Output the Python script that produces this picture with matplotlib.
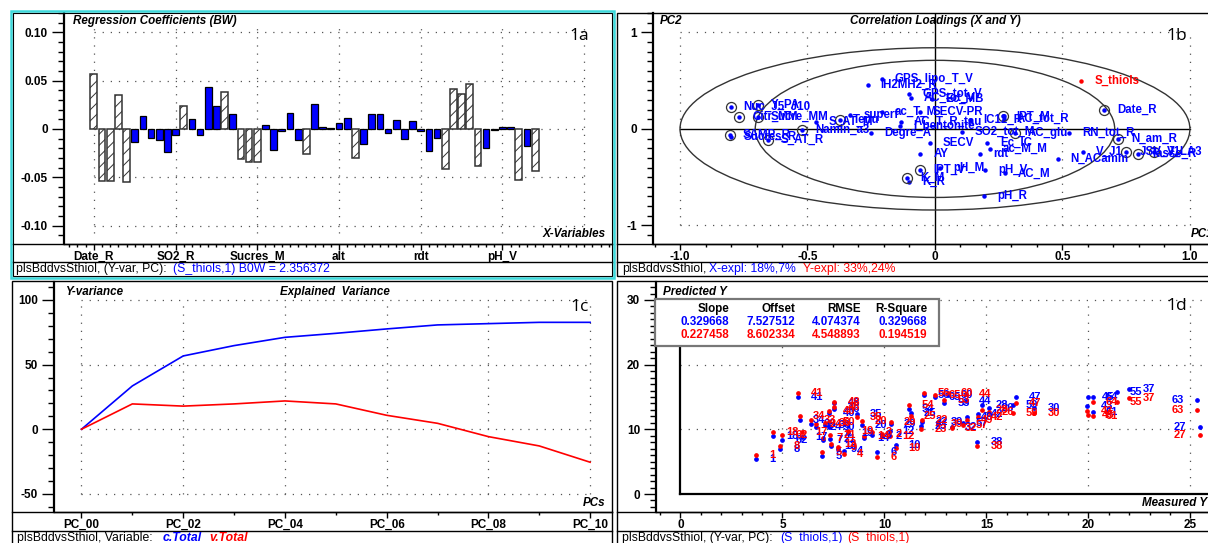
import matplotlib
matplotlib.use("Agg")
import matplotlib.pyplot as plt
from matplotlib.patches import Rectangle, Ellipse
from matplotlib.lines import Line2D
from matplotlib.ticker import MultipleLocator
import numpy as np

# ---------------- data ----------------
# 1a: PLS regression coefficients (weighted) per X-variable
coef_values = [0.057, -0.054, -0.054, 0.035, -0.055, -0.013, 0.013, -0.009, -0.011, -0.024,
               -0.006, 0.024, 0.010, -0.006, 0.043, 0.024, 0.038, 0.016, -0.031, -0.034,
               -0.034, 0.004, -0.022, -0.002, 0.017, -0.011, -0.026, 0.026, 0.002, 0.001,
               0.006, 0.011, -0.030, -0.016, 0.015, 0.016, -0.004, 0.009, -0.010, 0.008,
               -0.002, -0.023, -0.009, -0.041, 0.041, 0.036, 0.047, -0.038, -0.020, -0.001,
               0.002, 0.002, -0.053, -0.018, -0.043]
coef_marked = [0, 1, 2, 3, 4, 11, 16, 18, 19, 20, 26, 32, 43, 44, 45, 46, 47, 52, 54]
coef_tick_pos = [0, 10, 20, 30, 40, 50]
coef_tick_labels = ["Date_R", "SO2_R", "Sucres_M", "alt", "rdt", "pH_V"]

# 1b: correlation loadings PC1 / PC2
load_labels = ["Nuc_J5_J10", "Y_PA", "Citr_MM", "Sucre_MM", "SAMP_R", "Sucres_R", "S_AT_R",
               "Namin_a3", "S_AT_M", "Tenu", "superf", "IH2MH2_R", "Degre_A", "GPS_lipo_T_V",
               "GPS_tot_V", "AC_tot_V", "Ec_MB", "ac_T_M", "AC_T_R_tau", "SECV-PR",
               "l_bentonite", "SO2_tot_M", "IC12_R", "SECV", "AY", "IPT_V", "pH_M", "K_M",
               "K_R", "Ec_IC", "ac_M_M", "rdt", "pH_V", "AC_M", "pH_R", "IPT_M", "AC_tot_R",
               "AC_glu", "RN_tot_R", "N_ACamm", "Date_R", "N_am_R", "V_J1", "JSV_J1",
               "Tasse_R", "V_LA3"]
load_pc1 = [-0.802, -0.696, -0.767, -0.696, -0.805, -0.800, -0.655, -0.521, -0.467, -0.374,
            -0.333, -0.264, -0.251, -0.208, -0.100, -0.095, -0.012, -0.208, -0.133, -0.060,
            -0.137, 0.105, 0.137, -0.020, -0.057, -0.057, 0.020, -0.109, -0.100, 0.204,
            0.216, 0.176, 0.196, 0.275, 0.193, 0.268, 0.270, 0.313, 0.525, 0.481,
            0.664, 0.717, 0.580, 0.751, 0.796, 0.859]
load_pc2 = [0.228, 0.248, 0.124, 0.124, -0.059, -0.085, -0.110, -0.007, 0.076, 0.090,
            0.145, 0.455, -0.045, 0.520, 0.360, 0.320, 0.310, 0.180, 0.076, 0.170,
            0.030, -0.030, 0.093, -0.145, -0.265, -0.421, -0.410, -0.507, -0.550, -0.142,
            -0.210, -0.260, -0.425, -0.460, -0.697, 0.130, 0.100, -0.041, -0.040, -0.314,
            0.193, -0.103, -0.240, -0.241, -0.255, -0.241]
load_significant = ["Nuc_J5_J10", "Y_PA", "Citr_MM", "Sucre_MM", "SAMP_R", "S_AT_R", "Namin_a3",
                    "Tenu", "IPT_V", "K_M", "IPT_M", "AC_glu", "Date_R", "N_am_R", "JSV_J1",
                    "Tasse_R", "V_LA3"]
y_label = "S_thiols"
y_pc1, y_pc2 = 0.574, 0.500

# 1c: explained Y-variance by number of PCs
pc_index = list(range(11))
pc_labels = ["PC_00", "PC_02", "PC_04", "PC_06", "PC_08", "PC_10"]
calib_total = [0, 33.5, 56.7, 64.7, 71.1, 74.2, 77.6, 80.7, 81.7, 82.7, 82.7]
valid_total = [0, 19.6, 17.9, 19.6, 21.9, 19.6, 10.8, 4.6, -5.7, -12.9, -25.5]

# 1d: predicted vs measured S_thiols
samp_ids = [1, 18, 62, 8, 41, 34, 17, 33, 24, 36, 50, 7, 21, 13, 5, 9, 4, 48, 46, 40,
            35, 19, 20, 2, 3, 14, 6, 29, 12, 10, 54, 25, 22, 23, 56, 65, 53, 60, 44, 39,
            32, 57, 49, 42, 28, 26, 38, 47, 59, 30, 43, 45, 64, 61, 55, 37, 63, 27]
samp_measured = [3.7, 4.55, 5.0, 4.9, 5.77, 5.85, 5.95, 6.4, 6.65, 7.1, 7.3, 7.0, 7.35, 7.4,
                 6.95, 7.7, 8.0, 7.55, 7.55, 7.3, 8.65, 8.2, 8.9, 9.9, 9.4, 9.0, 9.65, 10.3,
                 10.25, 10.55, 11.2, 11.3, 11.85, 11.8, 11.95, 12.5, 12.93, 13.1, 14.0, 12.6,
                 13.3, 13.83, 14.07, 14.6, 14.8, 15.1, 14.55, 16.44, 16.3, 17.35, 19.95, 20.0,
                 20.2, 20.2, 21.4, 22.0, 25.3, 25.45]
samp_pred_cal = [5.4, 8.9, 8.3, 6.9, 15.0, 11.4, 8.8, 10.9, 10.3, 10.6, 10.3, 8.3, 8.5, 7.4,
                 5.9, 6.9, 6.6, 14.0, 13.1, 12.6, 12.4, 9.4, 10.7, 8.9, 9.2, 8.6, 6.5, 10.8,
                 9.8, 7.6, 13.2, 12.5, 11.2, 10.5, 15.3, 15.0, 14.1, 15.3, 14.4, 11.1,
                 10.4, 11.0, 11.85, 12.3, 13.75, 13.3, 8.1, 15.0, 13.75, 13.25, 13.6, 14.95,
                 15.0, 12.7, 15.7, 16.2, 14.5, 10.3]
samp_pred_val = [6.1, 9.6, 9.1, 7.4, 15.6, 12.1, 9.6, 11.4, 10.9, 11.0, 11.2, 8.7, 9.1, 7.8,
                 6.5, 7.3, 6.2, 14.3, 13.5, 12.8, 11.9, 9.8, 11.3, 9.3, 9.6, 9.0, 5.8, 11.2,
                 8.9, 7.1, 13.75, 12.1, 11.4, 10.0, 15.65, 15.3, 14.6, 15.55, 15.45, 10.9,
                 10.15, 10.7, 11.4, 11.85, 13.0, 12.7, 7.4, 14.0, 12.5, 12.6, 12.8, 12.2,
                 14.3, 12.05, 14.2, 14.9, 13.0, 9.2]
stat_names = ["Slope", "Offset", "RMSE", "R-Square"]
stat_cal = ["0.329668", "7.527512", "4.074374", "0.329668"]
stat_val = ["0.227458", "8.602334", "4.548893", "0.194519"]

# ---------------- figure helpers ----------------
W, H, DPI = 1208, 543, 100
BLUE, RED, CYAN = "#0000ff", "#ff0000", "#3cd8da"
plt.rcParams["font.family"] = ["Liberation Sans", "DejaVu Sans"]
plt.rcParams["hatch.linewidth"] = 0.7
fig = plt.figure(figsize=(W / DPI, H / DPI), dpi=DPI)
fig.patch.set_facecolor("white")

TICK_FS = 8.5
TITLE_FS = 8.4
STATUS_FS = 8.8
TAG_FS = 12.5
LOAD_FS = 8.3
SAMP_FS = 8.0


def px_axes(x0, y0, x1, y1):
    return fig.add_axes([x0 / W, 1 - y1 / H, (x1 - x0) / W, (y1 - y0) / H])


def fline(x0, y0, x1, y1, color="black", lw=1.0):
    fig.add_artist(Line2D([x0 / W, x1 / W], [1 - y0 / H, 1 - y1 / H],
                          transform=fig.transFigure, color=color, lw=lw))


def frect(x0, y0, x1, y1, color="black", lw=1.0, fill=False, zorder=1):
    fig.add_artist(Rectangle((x0 / W, 1 - y1 / H), (x1 - x0) / W, (y1 - y0) / H,
                             transform=fig.transFigure, fill=fill, facecolor="white",
                             edgecolor=color, lw=lw, zorder=zorder))


def ftext(x, y, s, **kw):
    kw.setdefault("va", "center")
    return fig.text(x / W, 1 - y / H, s, **kw)


def dotted(ax, xs, ys):
    ax.plot(xs, ys, color="#555555", lw=0.9, dashes=(1.0, 5.5), zorder=0.5)


def style_axes(ax, xlim, ylim, yticks, yminor, xticks, xlabels, xminor, ylabels=None):
    ax.set_xlim(*xlim)
    ax.set_ylim(*ylim)
    for side in ("top", "right"):
        ax.spines[side].set_visible(False)
    ax.spines["left"].set_linewidth(1.6)
    ax.spines["bottom"].set_linewidth(1.0)
    ax.set_yticks(yticks, labels=ylabels if ylabels is not None else [str(t) for t in yticks])
    ax.set_xticks(xticks, labels=xlabels)
    ax.yaxis.set_minor_locator(MultipleLocator(yminor))
    ax.xaxis.set_minor_locator(MultipleLocator(xminor))
    ax.tick_params(axis="y", which="major", length=8.5, width=1.0, pad=3, labelsize=TICK_FS)
    ax.tick_params(axis="y", which="minor", length=4.3, width=1.0)
    ax.tick_params(axis="x", which="major", length=4.3, width=1.0, pad=0.5, labelsize=TICK_FS)
    ax.tick_params(axis="x", which="minor", length=2.5, width=1.0)
    for lbl in ax.get_xticklabels() + ax.get_yticklabels():
        lbl.set_fontweight("bold")


def status(y, parts):
    for x, s, color, style, weight in parts:
        ftext(x, y, s, color=color, fontsize=STATUS_FS, fontstyle=style, fontweight=weight)


# ---------------- panel frames ----------------
frect(11, 11, 613.5, 277.5, color=CYAN, lw=1.8)
frect(12.5, 12.5, 612, 276, lw=0.8)
fline(12.5, 244, 612, 244)
fline(12.5, 262, 612, 262)

frect(617, 12.5, 1215, 276)
fline(617, 244, 1208, 244)
fline(617, 262, 1208, 262)

frect(12, 281, 612, 550)
fline(12, 512, 612, 512)
fline(12, 531, 612, 531)

frect(617, 281, 1215, 550)
fline(617, 512, 1208, 512)
fline(617, 531, 1208, 531)

# ---------------- 1a: regression coefficients ----------------
ax1 = px_axes(64, 13, 612, 244)
style_axes(ax1, (-3.65, 63.4), (-0.119, 0.12), [-0.10, -0.05, 0, 0.05, 0.10], 0.01,
           coef_tick_pos, coef_tick_labels, 1,
           ylabels=["-0.10", "-0.05", "0", "0.05", "0.10"])
for yv in [-0.10, -0.05, 0, 0.05, 0.10]:
    dotted(ax1, [0, 60], [yv, yv])
for xv in range(0, 61, 10):
    dotted(ax1, [xv, xv], [-0.108, 0.108])
idx = np.arange(len(coef_values))
for i, v in zip(idx, coef_values):
    if i in coef_marked:
        ax1.bar(i, v, width=0.82, facecolor="white", edgecolor="#333333", lw=1.1,
                hatch="///", zorder=2)
    else:
        ax1.bar(i, v, width=0.82, facecolor=BLUE, edgecolor="black", lw=0.9, zorder=2)

ftext(73, 21, "Regression Coefficients (BW)", fontsize=TITLE_FS, fontweight="bold",
      fontstyle="italic")
ftext(569, 36, "1a", fontsize=TAG_FS, family="Open Sans")
ftext(606, 234, "X-Variables", ha="right", fontsize=TITLE_FS, fontweight="bold",
      fontstyle="italic")
status(269, [(16, "plsBddvsSthiol, (Y-var, PC):", "black", "normal", "normal"),
             (173, "(S_thiols,1) B0W = 2.356372", BLUE, "normal", "normal")])

# ---------------- 1b: correlation loadings ----------------
ax2 = px_axes(653, 13, 1208, 244)
style_axes(ax2, (-1.106, 1.071), (-1.192, 1.20), [-1, 0, 1], 0.1,
           [-1, -0.5, 0, 0.5, 1], ["-1.0", "-0.5", "0", "0.5", "1.0"], 0.1)
for xv in (-1, -0.5, 0.5, 1):
    dotted(ax2, [xv, xv], [-1, 1])
for yv in (-1, 1):
    dotted(ax2, [-1, 1], [yv, yv])
ax2.plot([-1, 1], [0, 0], color="black", lw=1.0, zorder=1)
ax2.axvline(0, color="black", lw=1.0, zorder=1)
ax2.add_patch(Ellipse((0, 0), 2.0, 1.68, fill=False, edgecolor="#333333", lw=1.0, zorder=1))
ax2.add_patch(Ellipse((0, 0), 1.41, 1.42, fill=False, edgecolor="#333333", lw=1.0, zorder=1))

ax2.plot(load_pc1, load_pc2, "o", ms=2.2, color=BLUE, ls="none", zorder=3)
sig_x = [x for x, l in zip(load_pc1, load_labels) if l in load_significant]
sig_y = [y for y, l in zip(load_pc2, load_labels) if l in load_significant]
ax2.plot(sig_x, sig_y, "o", ms=7.2, mfc="none", mec="#333333", mew=0.9, ls="none", zorder=3)
for lbl, x, y in zip(load_labels, load_pc1, load_pc2):
    ax2.annotate(lbl, (x, y), xytext=(9.4, 0), textcoords="offset points", va="center",
                 ha="left", color=BLUE, fontsize=LOAD_FS, fontweight="bold", zorder=4)
ax2.plot([y_pc1], [y_pc2], "o", ms=2.2, color=RED, zorder=3)
ax2.annotate(y_label, (y_pc1, y_pc2), xytext=(9.4, 0), textcoords="offset points",
             va="center", ha="left", color=RED, fontsize=LOAD_FS, fontweight="bold", zorder=4)

ftext(660, 21, "PC2", fontsize=TITLE_FS, fontweight="bold", fontstyle="italic")
ftext(935, 21, "Correlation Loadings (X and Y)", ha="center", fontsize=TITLE_FS,
      fontweight="bold", fontstyle="italic")
ftext(1166, 36, "1b", fontsize=TAG_FS, family="Open Sans")
ftext(1191, 234, "PC1", fontsize=TITLE_FS, fontweight="bold", fontstyle="italic")
status(269, [(622, "plsBddvsSthiol,", "black", "normal", "normal"),
             (709, "X-expl: 18%,7%", BLUE, "normal", "normal"),
             (803, "Y-expl: 33%,24%", RED, "normal", "normal")])

# ---------------- 1c: explained variance ----------------
ax3 = px_axes(54, 282, 612, 512)
style_axes(ax3, (-0.54, 10.43), (-64.0, 113.9), [-50, 0, 50, 100], 10,
           [0, 2, 4, 6, 8, 10], pc_labels, 1)
for yv in (-50, 0, 50, 100):
    dotted(ax3, [0, 10], [yv, yv])
for xv in range(0, 11, 2):
    dotted(ax3, [xv, xv], [-50, 100])
ax3.plot(pc_index, calib_total, color=BLUE, lw=1.2, zorder=3)
ax3.plot(pc_index, valid_total, color=RED, lw=1.2, zorder=3)

ftext(65, 292, "Y-variance", fontsize=TITLE_FS, fontweight="bold", fontstyle="italic")
ftext(335, 292, "Explained  Variance", ha="center", fontsize=TITLE_FS, fontweight="bold",
      fontstyle="italic")
ftext(570, 307, "1c", fontsize=TAG_FS, family="Open Sans")
ftext(605, 503, "PCs", ha="right", fontsize=TITLE_FS, fontweight="bold", fontstyle="italic")
status(538, [(17, "plsBddvsSthiol, Variable:", "black", "normal", "normal"),
             (163, "c.Total", BLUE, "italic", "bold"),
             (209, "v.Total", RED, "italic", "bold")])

# ---------------- 1d: predicted vs measured ----------------
ax4 = px_axes(656, 282, 1208, 512)
style_axes(ax4, (-1.2, 25.86), (-2.78, 32.78), [0, 10, 20, 30], 1,
           [0, 5, 10, 15, 20, 25], ["0", "5", "10", "15", "20", "25"], 1)
for yv in (10, 20, 30):
    dotted(ax4, [0, 25.86], [yv, yv])
for xv in (5, 10, 15, 20, 25):
    dotted(ax4, [xv, xv], [0, 30])
ax4.plot([0, 25.86], [0, 0], color="black", lw=1.6, zorder=2, clip_on=False)
ax4.plot([0, 0], [0, 22.9], color="black", lw=1.6, zorder=2)

ax4.plot(samp_measured, samp_pred_cal, "o", ms=2.4, color=BLUE, ls="none", zorder=3)
ax4.plot(samp_measured, samp_pred_val, "o", ms=2.4, color=RED, ls="none", zorder=3)
for series, col in ((samp_pred_cal, BLUE), (samp_pred_val, RED)):
    for sid, mx, py in zip(samp_ids, samp_measured, series):
        right_edge = mx > 24.5
        ax4.annotate(str(sid), (mx, py), xytext=(-9.4 if right_edge else 9.4, 0),
                     textcoords="offset points", va="center",
                     ha="right" if right_edge else "left", color=col, fontsize=SAMP_FS,
                     fontweight="bold", zorder=4)

# statistics box
frect(655, 299.3, 938.8, 345.7, color="#777777", lw=1.6, fill=True, zorder=4)
col_right = [729, 795, 861, 927]
for xr, name, c, v in zip(col_right, stat_names, stat_cal, stat_val):
    ftext(xr, 309, name, ha="right", fontsize=8.4, fontweight="bold", zorder=6)
    ftext(xr, 322, c, ha="right", fontsize=8.4, fontweight="bold", color=BLUE, zorder=6)
    ftext(xr, 335.3, v, ha="right", fontsize=8.4, fontweight="bold", color=RED, zorder=6)

ftext(663, 292, "Predicted Y", fontsize=TITLE_FS, fontweight="bold", fontstyle="italic")
ftext(1166, 306, "1d", fontsize=TAG_FS, family="Open Sans")
ftext(1142, 503, "Measured Y", fontsize=TITLE_FS, fontweight="bold", fontstyle="italic")
status(538, [(622, "plsBddvsSthiol, (Y-var, PC):", "black", "normal", "normal"),
             (780, "(S_thiols,1)", BLUE, "normal", "normal"),
             (847, "(S_thiols,1)", RED, "normal", "normal")])

fig.savefig("out.png", dpi=DPI, facecolor="white")
